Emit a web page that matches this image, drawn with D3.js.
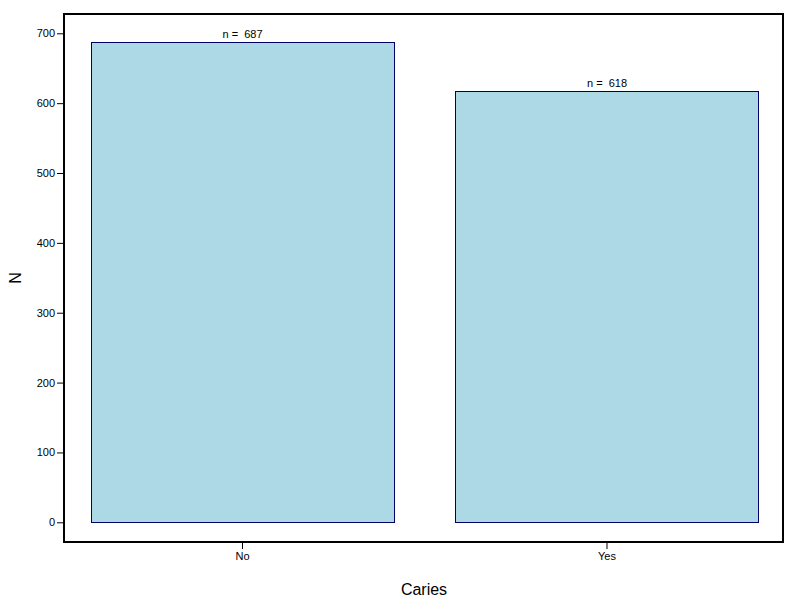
<!DOCTYPE html>
<html><head><meta charset="utf-8">
<script src="https://cdn.jsdelivr.net/npm/d3@7"></script>
<style>body{margin:0;background:#fff}svg{display:block}</style>
</head><body>
<script>
const categories = ["No", "Yes"];
const counts = [687, 618];
const yTicks = [0, 100, 200, 300, 400, 500, 600, 700];

const W = 800, H = 600;
const frame = {left: 64, right: 783, top: 14, bottom: 542};
const svg = d3.select("body").append("svg").attr("width", W).attr("height", H);
const font = "Arial, 'Liberation Sans', sans-serif";

const x = d3.scaleBand().domain(categories).range([64, 785.5]).paddingInner(0.1687).paddingOuter(0.0741);
const y = d3.scaleLinear().domain([0, 700]).range([522.3, 33.3]);

// bars
svg.selectAll("rect.bar").data(categories).join("rect")
  .attr("class", "bar")
  .attr("x", d => Math.round(x(d)) + 0.5)
  .attr("y", (d, i) => Math.round(y(counts[i])) + 0.5)
  .attr("width", Math.round(x.bandwidth()))
  .attr("height", (d, i) => Math.round(y(0)) - Math.round(y(counts[i])))
  .attr("fill", "#add8e6").attr("stroke", "#000066").attr("stroke-width", 1);

// labels
svg.selectAll("text.n").data(categories).join("text")
  .attr("x", d => x(d) + x.bandwidth() / 2)
  .attr("y", (d, i) => y(counts[i]) - 4)
  .attr("text-anchor", "middle").attr("font-family", font).attr("font-size", 11)
  .attr("xml:space", "preserve").style("white-space", "pre")
  .text((d, i) => "n =  " + counts[i]);

// frame
svg.append("rect").attr("x", frame.left).attr("y", frame.top)
  .attr("width", frame.right - frame.left).attr("height", frame.bottom - frame.top)
  .attr("fill", "none").attr("stroke", "#000").attr("stroke-width", 2);

// y axis
const yAxis = d3.axisLeft(y).tickValues(yTicks).tickSize(6).tickPadding(2);
const gy = svg.append("g").attr("transform", `translate(${frame.left - 1},0)`).call(yAxis);
gy.select(".domain").remove();
gy.selectAll("text").attr("font-family", font).attr("font-size", 11).attr("fill", "#000");

// x axis
const xAxis = d3.axisBottom(x).tickSize(6).tickPadding(3);
const gx = svg.append("g").attr("transform", `translate(0,${frame.bottom + 1})`).call(xAxis);
gx.select(".domain").remove();
gx.selectAll("text").attr("font-family", font).attr("font-size", 11).attr("fill", "#000");

// titles
svg.append("text").attr("x", 424).attr("y", 595).attr("text-anchor", "middle")
  .attr("font-family", font).attr("font-size", 16).text("Caries");
svg.append("text").attr("transform", "translate(21,278) rotate(-90)").attr("text-anchor", "middle")
  .attr("font-family", font).attr("font-size", 16).text("N");
</script>
</body></html>
